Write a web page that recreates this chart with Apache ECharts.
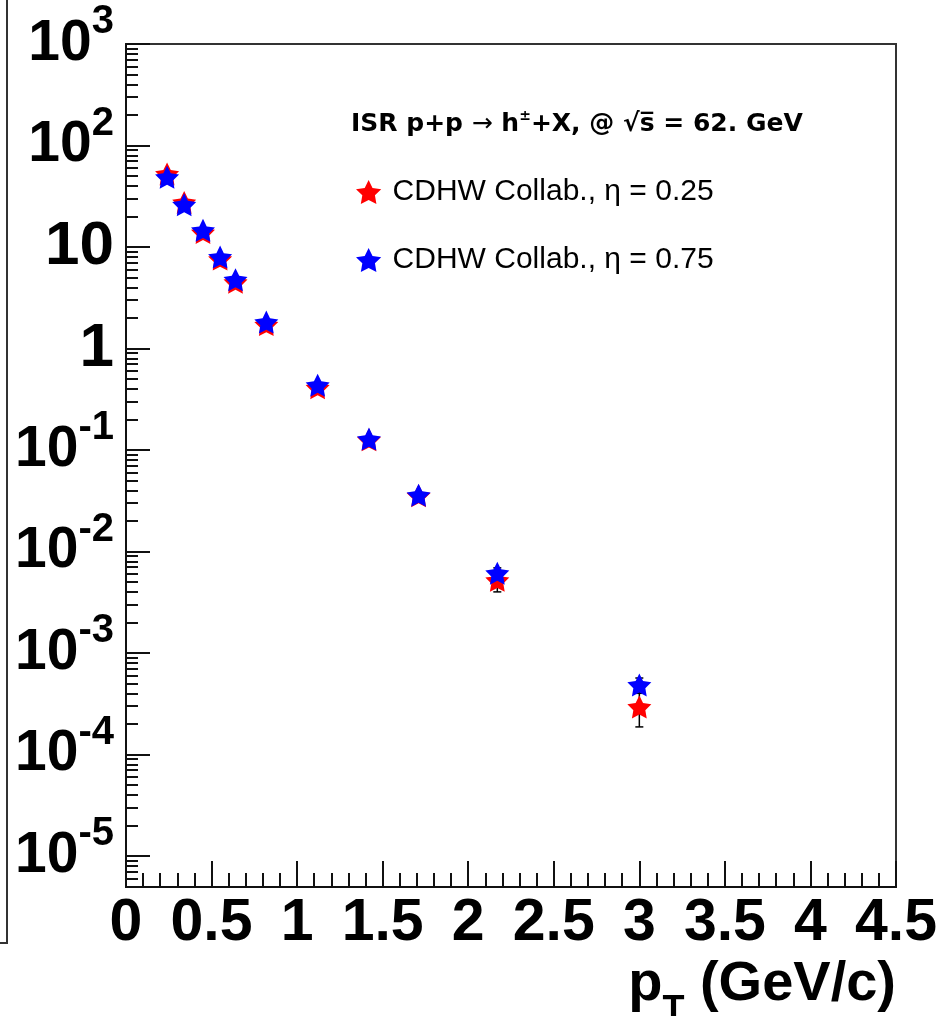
<!DOCTYPE html>
<html>
<head>
<meta charset="utf-8">
<script src="https://cdn.jsdelivr.net/npm/echarts@6/dist/echarts.min.js"></script>
<style>
  html, body { margin: 0; padding: 0; background: #fff; }
  #chart { width: 944px; height: 1016px; }
</style>
</head>
<body>
<div id="chart"></div>
<script>
// Charged-hadron invariant yields, ISR p+p -> h+X at sqrt(s) = 62 GeV (CDHW)
const pT = [0.24, 0.34, 0.45, 0.55, 0.64, 0.82, 1.12, 1.42, 1.71, 2.17, 3.0];
const yieldEta025 = [52.5, 27.5, 13.9, 7.6, 4.5, 1.72, 0.41, 0.126, 0.0355, 0.0052, 0.000294];
const errEta025   = [2.6, 1.4, 0.7, 0.38, 0.23, 0.09, 0.021, 0.0065, 0.0019, 0.0012, 0.000107];
const yieldEta075 = [48.7, 26.1, 14.6, 7.96, 4.77, 1.82, 0.434, 0.128, 0.0359, 0.0061, 0.000484];
const errEta075   = [2.4, 1.3, 0.73, 0.4, 0.24, 0.09, 0.022, 0.0066, 0.0019, 0.0008, 0.000083];
const seriesNames = ['CDHW Collab., \u03b7 = 0.25', 'CDHW Collab., \u03b7 = 0.75'];
const yDecades = [-5, -4, -3, -2, -1, 0, 1, 2, 3];   // labelled powers of ten
const yMin = 4.95e-6, yMax = 1000;

// five-pointed star marker
function starPath(rOut, rIn) {
  const pts = [];
  for (let i = 0; i < 10; i++) {
    const a = -Math.PI / 2 + i * Math.PI / 5;
    const r = i % 2 ? rIn : rOut;
    pts.push((r * Math.cos(a)).toFixed(2) + ',' + (r * Math.sin(a)).toFixed(2));
  }
  return 'path://M' + pts.join('L') + 'Z';
}
const STAR = starPath(100, 50);

const majorVals = yDecades.map(d => Math.pow(10, d));
const minorVals = [];
for (let d = -6; d <= 2; d++) {
  for (let m = 2; m <= 9; m++) {
    const v = m * Math.pow(10, d);
    if (v >= yMin && v <= yMax) minorVals.push(v);
  }
}

const BOLD = "'Liberation Sans', Arial, Helvetica, sans-serif";
const INK = '#111';

function yLabel(v) {
  const p = Math.round(Math.log10(v));
  if (p === 0) return '{p|1}';
  if (p === 1) return '{p|10}';
  return '{b|10}{s|' + p + '}';
}

function errorBars(vals, errs) {
  return {
    type: 'custom',
    silent: true,
    data: pT.map((x, i) => [x, vals[i], errs[i]]),
    encode: { x: 0, y: 1 },
    renderItem(params, api) {
      const x = api.value(0), y = api.value(1), e = api.value(2);
      const hi = api.coord([x, y + e]);
      const lo = api.coord([x, y - e]);
      const c = 4;
      const st = { stroke: '#000', lineWidth: 1.5 };
      return {
        type: 'group',
        children: [
          { type: 'line', shape: { x1: hi[0], y1: hi[1], x2: lo[0], y2: lo[1] }, style: st },
          { type: 'line', shape: { x1: hi[0] - c, y1: hi[1], x2: hi[0] + c, y2: hi[1] }, style: st },
          { type: 'line', shape: { x1: lo[0] - c, y1: lo[1], x2: lo[0] + c, y2: lo[1] }, style: st }
        ]
      };
    }
  };
}

function points(name, vals, color) {
  return {
    type: 'scatter',
    name: name,
    data: pT.map((x, i) => [x, vals[i]]),
    symbol: STAR,
    symbolSize: [24, 23],
    itemStyle: { color: color, opacity: 1 },
    emphasis: { disabled: true }
  };
}

const chart = echarts.init(document.getElementById('chart'), null, { renderer: 'canvas' });
chart.setOption({
  animation: false,
  backgroundColor: '#fff',
  title: {
    text: '{b|ISR p+p }{a|\u2192}{b| h}{s|\u00b1}{b|+X, @ \u221as\u0305 = 62. GeV}',
    left: 346,
    top: 104,
    textStyle: {
      rich: {
        b: { fontFamily: "'DejaVu Sans', sans-serif", fontWeight: 'bold', fontSize: 25, color: '#000' },
        a: { fontFamily: "'DejaVu Sans', sans-serif", fontWeight: 'normal', fontSize: 25, color: '#000' },
        s: { fontFamily: "'DejaVu Sans', sans-serif", fontWeight: 'bold', fontSize: 14, color: '#000', padding: [0, 0, 16, 0] }
      }
    }
  },
  legend: {
    data: seriesNames,
    orient: 'vertical',
    left: 351,
    top: 172,
    itemWidth: 30,
    itemHeight: 24,
    itemGap: 38,
    icon: STAR,
    selectedMode: false,
    textStyle: { fontFamily: BOLD, fontSize: 30, color: '#000', padding: [0, 0, 0, 4] }
  },
  grid: {
    left: 126, right: 48, top: 44, bottom: 129,
    outerBoundsMode: 'none',
    containLabel: false,
    show: true, borderColor: '#333', borderWidth: 2, backgroundColor: 'transparent'
  },
  xAxis: {
    type: 'value',
    min: 0, max: 4.5, interval: 0.5,
    name: '{p|p}{t|T}{p| (GeV/c)}',
    nameLocation: 'end',
    nameGap: 0,
    nameTextStyle: {
      align: 'right', verticalAlign: 'top', padding: [54, 0, 0, 0],
      rich: {
        p: { fontFamily: BOLD, fontWeight: 'bold', fontSize: 56, color: '#000' },
        t: { fontFamily: BOLD, fontWeight: 'bold', fontSize: 36, color: '#000', padding: [52, 0, 0, 0] }
      }
    },
    axisLine: { lineStyle: { color: INK, width: 2 } },
    axisTick: { inside: true, length: 26, lineStyle: { color: INK, width: 2 } },
    minorTick: { show: true, splitNumber: 5, length: 14, lineStyle: { color: INK, width: 2 } },
    splitLine: { show: false },
    axisLabel: {
      margin: 6,
      showMinLabel: true, showMaxLabel: true, hideOverlap: false,
      fontFamily: BOLD, fontWeight: 'bold', fontSize: 59, color: '#000', lineHeight: 62
    }
  },
  yAxis: [
    {
      type: 'log', logBase: 10, min: yMin, max: yMax,
      axisLine: { lineStyle: { color: INK, width: 2 } },
      axisTick: { inside: true, length: 24, customValues: majorVals, lineStyle: { color: INK, width: 2 } },
      splitLine: { show: false },
      axisLabel: {
        margin: 12,
        customValues: majorVals,
        formatter: yLabel,
        rich: {
          p: { fontFamily: BOLD, fontWeight: 'bold', fontSize: 62, color: '#000' },
          b: { fontFamily: BOLD, fontWeight: 'bold', fontSize: 57, color: '#000' },
          s: { fontFamily: BOLD, fontWeight: 'bold', fontSize: 40, color: '#000', padding: [0, 0, 44, 0] }
        }
      }
    },
    {
      type: 'log', logBase: 10, min: yMin, max: yMax,
      position: 'left',
      axisLine: { show: false },
      axisTick: { inside: true, length: 12, customValues: minorVals, lineStyle: { color: INK, width: 2 } },
      axisLabel: { show: false },
      splitLine: { show: false }
    }
  ],
  graphic: [
    {
      type: 'polyline',
      shape: { points: [[7, 0], [7, 943], [0, 943]] },
      style: { stroke: '#333', lineWidth: 2, fill: null },
      silent: true
    }
  ],
  series: [
    errorBars(yieldEta025, errEta025),
    points(seriesNames[0], yieldEta025, '#ff0000'),
    errorBars(yieldEta075, errEta075),
    points(seriesNames[1], yieldEta075, '#0000ff')
  ]
});
</script>
</body>
</html>
